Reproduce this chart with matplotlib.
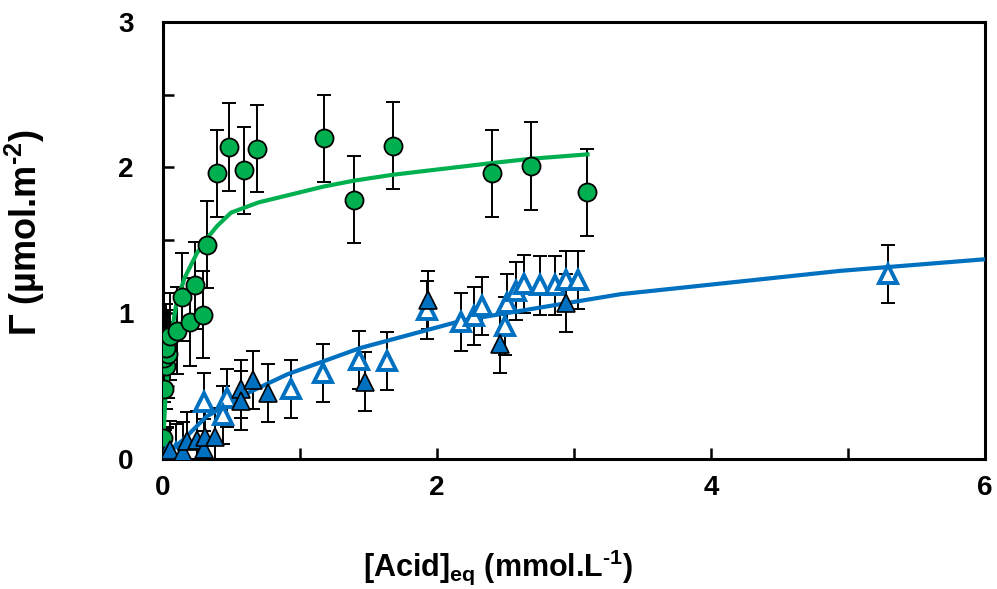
import matplotlib
matplotlib.use("Agg")
import matplotlib.pyplot as plt

plt.rcParams["font.family"] = ["Liberation Sans", "DejaVu Sans"]
plt.rcParams["font.weight"] = "bold"
plt.rcParams["mathtext.fontset"] = "custom"
plt.rcParams["mathtext.rm"] = "Liberation Sans:bold"
plt.rcParams["mathtext.bf"] = "Liberation Sans:bold"

# green circles
green_x = [0.003, 0.011, 0.023, 0.011, 0.042, 0.026, 0.055, 0.108, 0.20, 0.293,
           0.144, 0.237, 0.322, 0.395, 0.487, 0.594, 0.687, 1.18, 1.40, 1.68,
           2.40, 2.69, 3.10]
green_y = [0.14, 0.48, 0.64, 0.69, 0.72, 0.76, 0.84, 0.88, 0.94, 0.99,
           1.11, 1.19, 1.47, 1.96, 2.14, 1.98, 2.13, 2.20, 1.78, 2.15,
           1.96, 2.01, 1.83]
green_err = [0.3] * len(green_x)

# blue open triangles
open_x = [0.03, 0.10, 0.30, 0.47, 0.44, 0.94, 1.17, 1.43, 1.64, 1.93, 2.18, 2.27,
          2.33, 2.50, 2.51, 2.58, 2.64, 2.75, 2.86, 2.94, 3.03, 5.29]
open_y = [0.02, 0.04, 0.39, 0.42, 0.30, 0.48, 0.59, 0.68, 0.67, 1.02, 0.94, 0.98,
          1.05, 0.91, 1.07, 1.15, 1.20, 1.19, 1.19, 1.23, 1.23, 1.27]
open_err = [0.2] * len(open_x)

# blue filled triangles
fill_x = [0.02, 0.035, 0.055, 0.15, 0.18, 0.25, 0.30, 0.31, 0.38, 0.57, 0.57,
          0.66, 0.77, 1.48, 1.94, 2.46, 2.94]
fill_y = [0.0, 0.01, 0.06, 0.05, 0.12, 0.13, 0.07, 0.15, 0.15, 0.48, 0.40,
          0.54, 0.45, 0.53, 1.09, 0.79, 1.07]
fill_err = [0.2] * len(fill_x)

# fitted curves
gfit_x = [0.005, 0.02, 0.04, 0.066, 0.10, 0.16, 0.25, 0.33, 0.40, 0.50, 0.70,
          1.18, 1.40, 1.68, 2.40, 2.69, 3.10]
gfit_y = [0.12, 0.40, 0.63, 0.86, 1.06, 1.24, 1.41, 1.52, 1.60, 1.69, 1.76,
          1.87, 1.91, 1.95, 2.03, 2.06, 2.09]
bfit_x = [0.0, 0.05, 0.15, 0.32, 0.64, 0.91, 1.44, 2.19, 3.34, 4.94, 6.0]
bfit_y = [0.0, 0.05, 0.13, 0.29, 0.46, 0.58, 0.76, 0.95, 1.13, 1.29, 1.37]

green = "#00B050"
blue = "#0070C0"

fig = plt.figure(figsize=(9.97, 5.89), dpi=100)
ax = fig.add_axes([0.163, 0.221, 0.825, 0.742])

ebkw = dict(fmt="none", ecolor="black", elinewidth=1.4, capsize=5, capthick=1.4, zorder=2)
ax.errorbar(green_x, green_y, yerr=green_err, **ebkw)
ax.errorbar(open_x, open_y, yerr=open_err, **ebkw)
ax.errorbar(fill_x, fill_y, yerr=fill_err, **ebkw)

ax.plot(gfit_x, gfit_y, color=green, lw=3, zorder=3)
ax.plot(bfit_x, bfit_y, color=blue, lw=3, zorder=3)

ax.plot(green_x, green_y, "o", ms=13, mfc=green, mec="black", mew=1.3, zorder=4)
ax.plot(open_x, open_y, "^", ms=13, mfc="white", mec=blue, mew=2.8, zorder=4)
ax.plot(fill_x, fill_y, "^", ms=13, mfc=blue, mec="black", mew=1.2, zorder=5)

ax.set_xlim(0, 6)
ax.set_ylim(0, 3)
ax.set_xticks([0, 2, 4, 6])
ax.set_xticks([1, 3, 5], minor=True)
ax.set_yticks([0, 1, 2, 3])
ax.set_yticks([0.5, 1.5, 2.5], minor=True)
ax.tick_params(which="both", direction="in", width=1.8, labelsize=20)
ax.tick_params(which="both", length=8)
ax.tick_params(axis="x", which="both", pad=12)
ax.tick_params(axis="y", which="both", pad=21)
for s in ax.spines.values():
    s.set_linewidth(2.2)

ax.set_xlabel("[Acid]$_{\\mathbf{eq}}$ (mmol.L$^{\\mathbf{\u2010}\\mathbf{1}}$)", fontsize=22,
              fontweight="bold")
ax.xaxis.set_label_coords(0.408, -0.203)
ax.set_ylabel("Γ (µmol.m$^{\\mathbf{\u2010}\\mathbf{2}}$)", fontsize=26, fontweight="bold")
ax.yaxis.set_label_coords(-0.140, 0.519)

fig.savefig("out.png", dpi=100)
